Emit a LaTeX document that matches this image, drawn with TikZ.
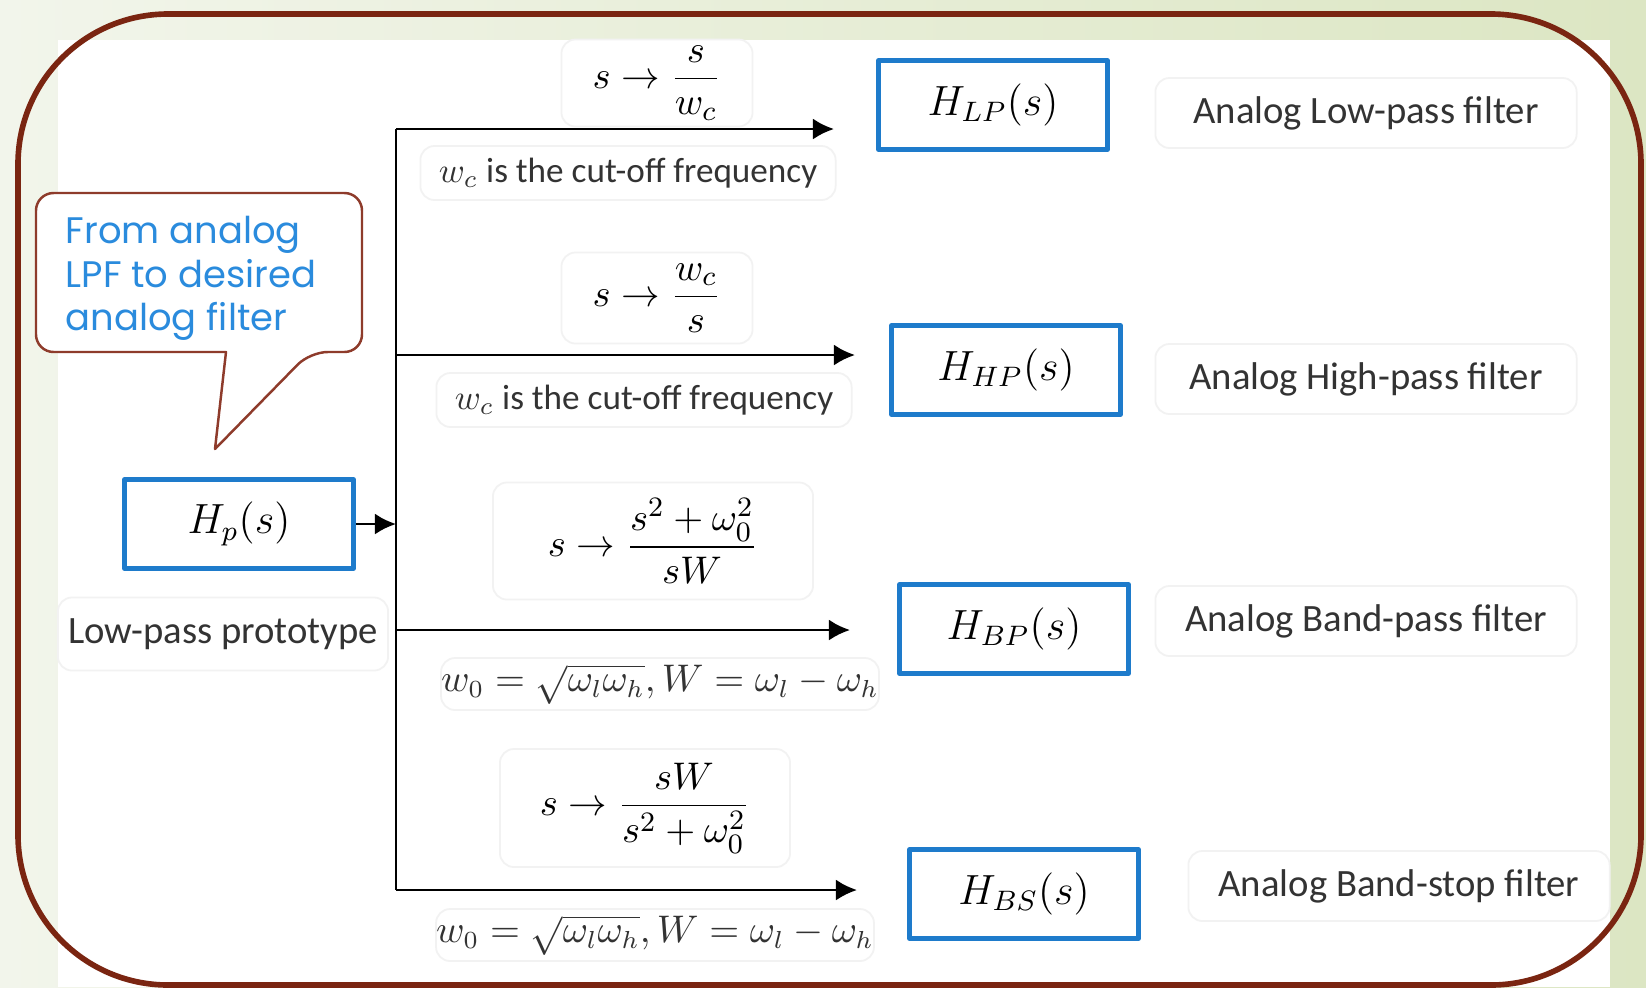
\documentclass[tikz,border=0pt]{standalone}
\usepackage{amsmath}
\usepackage[no-math]{fontspec}
\setmainfont{Carlito}
\newfontfamily\gothic{Poppins}
\usetikzlibrary{arrows.meta}
\definecolor{bgleft}{HTML}{F2F5EB}
\definecolor{bgright}{HTML}{DCE6C3}
\definecolor{framebrown}{HTML}{7A2511}
\definecolor{callbrown}{HTML}{8E3B2B}
\definecolor{boxblue}{HTML}{1E7BCB}
\definecolor{noteblue}{HTML}{2A8BDD}
\definecolor{txtgray}{HTML}{333333}
\begin{document}
\begin{tikzpicture}[x=0.01cm, y=-0.01cm, line join=round, >={Latex[length=6pt,width=6pt]},
	font=\fontsize{11}{13}\selectfont,
	filt/.style={draw=boxblue, line width=1.3pt, minimum width=2.29cm, minimum height=0.89cm, font=\fontsize{11.5}{14}\selectfont},
	faint/.style={draw=black!5, line width=0.5pt, rounded corners=4pt, inner sep=0pt},
	lab/.style={faint, text=txtgray, minimum width=4.21cm, minimum height=0.7cm},
	note/.style={faint, text=txtgray, minimum width=4.15cm, minimum height=0.54cm, font=\fontsize{10}{12}\selectfont},
	wire/.style={line width=0.8pt}]
	\useasboundingbox (0,0) rectangle (1646,987);
	\shade[left color=bgleft, right color=bgright] (0,0) rectangle (1646,987);
	\fill[white] (58,40) rectangle (1610,987);
	\draw[framebrown, line width=1.6pt, rounded corners=1.5cm] (18,14) rectangle (1641,985);
	% callout
	\draw[callbrown, line width=0.7pt, fill=white] (226,352) [rounded corners=5pt] -- (36,352) -- (36,193) -- (362,193) -- (362,352) -- (310,352) [sharp corners] -- (215,449) -- cycle;
	\node[text=noteblue, font=\gothic\fontsize{10.5}{12.5}\selectfont, align=left, anchor=north west, inner sep=0pt] (say) at (65,215) {From analog\\LPF to desired\\analog filter};
	% prototype
	\node[filt] (Hp) at (239,524) {$H_p(s)$};
	\node[lab, minimum width=3.3cm, minimum height=0.73cm] (proto) at (223,634) {Low-pass prototype};
	% bus and branches
	\coordinate (bus) at (396,524);
	\coordinate (top) at (396,129);
	\coordinate (bot) at (396,890);
	\draw[wire,->] (Hp) -- (bus);
	\draw[wire] (top) -- (bot);
	\coordinate (e1) at (834,129);
	\coordinate (e2) at (855,355);
	\coordinate (e3) at (850,630);
	\coordinate (e4) at (857,890);
	\draw[wire,->] (top) -- (e1);
	\draw[wire,->] (bus |- e2) -- (e2);
	\draw[wire,->] (bus |- e3) -- (e3);
	\draw[wire,->] (bot) -- (e4);
	% mappings
	\node[faint, minimum width=1.91cm, minimum height=0.87cm] (f1) at (657,83) {$s\rightarrow\dfrac{s}{w_c}$};
	\node[note] (n1) at (628,173) {$w_c$ is the cut-off frequency};
	\node[faint, minimum width=1.91cm, minimum height=0.91cm] (f2) at (657,298) {$s\rightarrow\dfrac{w_c}{s}$};
	\node[note] (n2) at (644,400) {$w_c$ is the cut-off frequency};
	\node[faint, minimum width=3.2cm, minimum height=1.17cm] (f3) at (653,541) {$s\rightarrow\dfrac{s^{2}+\omega_{0}^{2}}{sW}$};
	\node[note, minimum width=4.35cm, minimum height=0.52cm, font=\fontsize{10.5}{12}\selectfont] (n3) at (660,684) {$w_0=\sqrt{\omega_l\omega_h}, W=\omega_l-\omega_h$};
	\node[faint, minimum width=2.9cm, minimum height=1.18cm] (f4) at (645,808) {$s\rightarrow\dfrac{sW}{s^{2}+\omega_{0}^{2}}$};
	\node[note, minimum width=4.35cm, minimum height=0.52cm, font=\fontsize{10.5}{12}\selectfont] (n4) at (655,935) {$w_0=\sqrt{\omega_l\omega_h}, W=\omega_l-\omega_h$};
	% filters
	\node[filt] (LP) at (993,105) {$H_{LP}(s)$};
	\node[filt] (HP) at (1006,370) {$H_{HP}(s)$};
	\node[filt] (BP) at (1014,629) {$H_{BP}(s)$};
	\node[filt] (BS) at (1024,894) {$H_{BS}(s)$};
	\node[lab] (tLP) at (1366,113) {Analog Low-pass filter};
	\node[lab] (tHP) at (1366,379) {Analog High-pass filter};
	\node[lab] (tBP) at (1366,621) {Analog Band-pass filter};
	\node[lab] (tBS) at (1399,886) {Analog Band-stop filter};
\end{tikzpicture}
\end{document}
